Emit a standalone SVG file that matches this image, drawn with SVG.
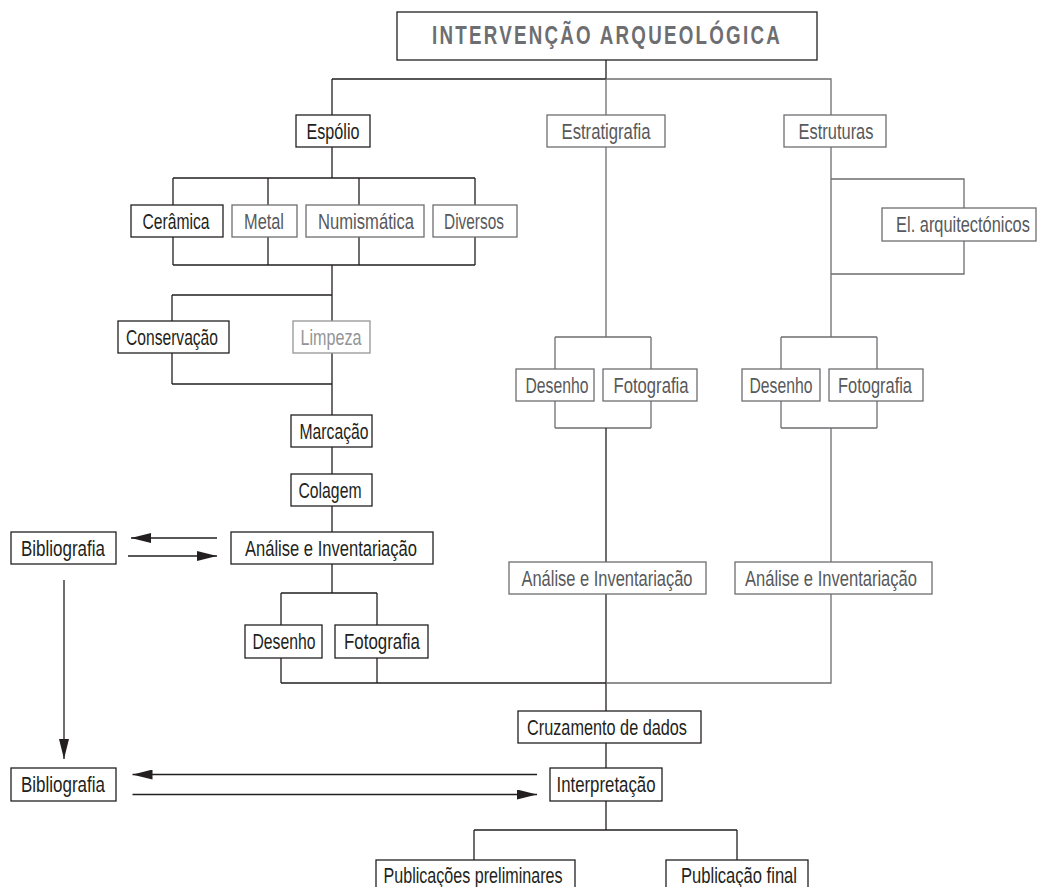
<svg xmlns="http://www.w3.org/2000/svg" width="1039" height="887" viewBox="0 0 1039 887">
<style>
.bk{fill:#fff;stroke:#231f20;stroke-width:1.3}
.bg{fill:#fff;stroke:#6d6e71;stroke-width:1.3}
.bl{fill:#fff;stroke:#939598;stroke-width:1.3}
.t{font-family:"Liberation Sans",Arial,sans-serif;font-size:22px;text-anchor:middle}
.tk{fill:#231f20}
.tg{fill:#58595b}
.tl{fill:#939598}
.ck{fill:none;stroke:#231f20;stroke-width:1.3}
.cg{fill:none;stroke:#6d6e71;stroke-width:1.3}
.title{font-family:"Liberation Sans",Arial,sans-serif;font-size:25px;font-weight:bold;fill:#6d6e71;text-anchor:middle;letter-spacing:3px}
</style>
<defs>
<marker id="ah" markerUnits="userSpaceOnUse" markerWidth="20" markerHeight="10" refX="20" refY="5" orient="auto">
<path d="M0,0 L20,5 L0,10 z" fill="#231f20"/>
</marker>
</defs>
<g id="connectors">
<path class="ck" d="M606,60 V79 M332,79 H606 M332,79 V115"/>
<path class="cg" d="M606,79 H831 V115 M606,79 V115"/>
<path class="ck" d="M332,147 V178 M173,178 H475 M173,178 V205 M268,178 V205 M359,178 V205 M475,178 V205 M173,237 V265 M268,237 V265 M359,237 V265 M475,237 V265 M173,265 H475 M332,265 V321 M172,295 H332 M172,295 V321 M172,353 V384 M332,353 V415 M172,384 H332 M332,447 V474 M332,506 V532 M332,564 V593 M281,593 H377 M281,593 V625 M377,593 V625 M281,658 V683 M377,658 V683 M281,683 H606"/>
<path class="cg" d="M606,147 V337 M555,337 H651 M555,337 V369 M651,337 V369 M555,401 V428 M651,401 V428 M555,428 H651"/>
<path class="ck" d="M606,428 V562 M606,594 V711 M606,743 V768 M606,801 V830 M474,830 H737 M474,830 V860 M737,830 V860"/>
<path class="cg" d="M831,147 V337 M831,179 H964 V208 M964,241 V274 H831 M781,337 H877 M781,337 V369 M877,337 V369 M781,401 V428 M877,401 V428 M781,428 H877 M831,428 V562 M831,594 V683 H606"/>
<path class="ck" d="M217,538 H131" marker-end="url(#ah)"/>
<path class="ck" d="M128,556 H217" marker-end="url(#ah)"/>
<path class="ck" d="M64,580 V759" marker-end="url(#ah)"/>
<path class="ck" d="M537,774.5 H132.5" marker-end="url(#ah)"/>
<path class="ck" d="M132.5,794.5 H537" marker-end="url(#ah)"/>
</g>
<g id="n-title"><rect class="bk" x="397" y="12" width="420" height="48"/><text class="title" x="607" y="44" textLength="350" lengthAdjust="spacingAndGlyphs">INTERVENÇÃO ARQUEOLÓGICA</text></g>
<g id="n-espolio"><rect class="bk" x="296" y="115" width="74" height="32"/><text class="t tk" x="333" y="138.5" textLength="53" lengthAdjust="spacingAndGlyphs">Espólio</text></g>
<g id="n-estratigrafia"><rect class="bg" x="547" y="115" width="118" height="32"/><text class="t tg" x="606" y="138.5" textLength="89" lengthAdjust="spacingAndGlyphs">Estratigrafia</text></g>
<g id="n-estruturas"><rect class="bg" x="784" y="115" width="102" height="32"/><text class="t tg" x="836" y="138.5" textLength="75" lengthAdjust="spacingAndGlyphs">Estruturas</text></g>
<g id="n-elarq"><rect class="bg" x="882" y="208" width="154" height="33"/><text class="t tg" transform="translate(963,231.5) scale(0.745,1)">El. arquitectónicos</text></g>
<g id="n-ceramica"><rect class="bk" x="131" y="205" width="92" height="32"/><text class="t tk" x="176" y="228.5" textLength="67" lengthAdjust="spacingAndGlyphs">Cerâmica</text></g>
<g id="n-metal"><rect class="bg" x="232" y="205" width="65" height="32"/><text class="t tg" x="264" y="228.5" textLength="40" lengthAdjust="spacingAndGlyphs">Metal</text></g>
<g id="n-numismatica"><rect class="bg" x="306" y="205" width="118" height="32"/><text class="t tg" x="366" y="228.5" textLength="96" lengthAdjust="spacingAndGlyphs">Numismática</text></g>
<g id="n-diversos"><rect class="bg" x="433" y="205" width="84" height="32"/><text class="t tg" x="474" y="228.5" textLength="60" lengthAdjust="spacingAndGlyphs">Diversos</text></g>
<g id="n-conservacao"><rect class="bk" x="118" y="321" width="111" height="32"/><text class="t tk" x="172" y="344.5" textLength="92" lengthAdjust="spacingAndGlyphs">Conservação</text></g>
<g id="n-limpeza"><rect class="bl" x="293" y="321" width="77" height="32"/><text class="t tl" x="331" y="344.5" textLength="61" lengthAdjust="spacingAndGlyphs">Limpeza</text></g>
<g id="n-marcacao"><rect class="bk" x="291" y="415" width="81" height="32"/><text class="t tk" x="334" y="438.5" textLength="69" lengthAdjust="spacingAndGlyphs">Marcação</text></g>
<g id="n-colagem"><rect class="bk" x="291" y="474" width="81" height="32"/><text class="t tk" x="330" y="497.5" textLength="63" lengthAdjust="spacingAndGlyphs">Colagem</text></g>
<g id="n-analise1"><rect class="bk" x="231" y="532" width="202" height="32"/><text class="t tk" x="331" y="555.5" textLength="172" lengthAdjust="spacingAndGlyphs">Análise e Inventariação</text></g>
<g id="n-biblio1"><rect class="bk" x="11" y="532" width="105" height="32"/><text class="t tk" x="63" y="555.5" textLength="84" lengthAdjust="spacingAndGlyphs">Bibliografia</text></g>
<g id="n-desenho1"><rect class="bk" x="245" y="625" width="77" height="33"/><text class="t tk" x="284" y="648.5" textLength="63" lengthAdjust="spacingAndGlyphs">Desenho</text></g>
<g id="n-foto1"><rect class="bk" x="335" y="625" width="93" height="33"/><text class="t tk" x="382" y="648.5" textLength="76" lengthAdjust="spacingAndGlyphs">Fotografia</text></g>
<g id="n-desenho2"><rect class="bg" x="516" y="369" width="78" height="32"/><text class="t tg" x="557" y="392.5" textLength="63" lengthAdjust="spacingAndGlyphs">Desenho</text></g>
<g id="n-foto2"><rect class="bg" x="603" y="369" width="94" height="32"/><text class="t tg" x="651" y="392.5" textLength="75" lengthAdjust="spacingAndGlyphs">Fotografia</text></g>
<g id="n-desenho3"><rect class="bg" x="742" y="369" width="78" height="32"/><text class="t tg" x="781" y="392.5" textLength="63" lengthAdjust="spacingAndGlyphs">Desenho</text></g>
<g id="n-foto3"><rect class="bg" x="829" y="369" width="94" height="32"/><text class="t tg" x="875" y="392.5" textLength="74" lengthAdjust="spacingAndGlyphs">Fotografia</text></g>
<g id="n-analise2"><rect class="bg" x="509" y="562" width="197" height="32"/><text class="t tg" x="607" y="585.5" textLength="171" lengthAdjust="spacingAndGlyphs">Análise e Inventariação</text></g>
<g id="n-analise3"><rect class="bg" x="735" y="562" width="197" height="32"/><text class="t tg" x="831" y="585.5" textLength="172" lengthAdjust="spacingAndGlyphs">Análise e Inventariação</text></g>
<g id="n-cruzamento"><rect class="bk" x="518" y="711" width="183" height="32"/><text class="t tk" x="607" y="734.5" textLength="160" lengthAdjust="spacingAndGlyphs">Cruzamento de dados</text></g>
<g id="n-interpretacao"><rect class="bk" x="550" y="768" width="112" height="33"/><text class="t tk" x="606" y="791.5" textLength="99" lengthAdjust="spacingAndGlyphs">Interpretação</text></g>
<g id="n-biblio2"><rect class="bk" x="11" y="768" width="105" height="33"/><text class="t tk" x="63" y="791.5" textLength="84" lengthAdjust="spacingAndGlyphs">Bibliografia</text></g>
<g id="n-pubprel"><rect class="bk" x="376" y="860" width="199" height="32"/><text class="t tk" x="473" y="883" textLength="179" lengthAdjust="spacingAndGlyphs">Publicações preliminares</text></g>
<g id="n-pubfinal"><rect class="bk" x="666" y="860" width="142" height="32"/><text class="t tk" x="739" y="883" textLength="116" lengthAdjust="spacingAndGlyphs">Publicação final</text></g>
</svg>
